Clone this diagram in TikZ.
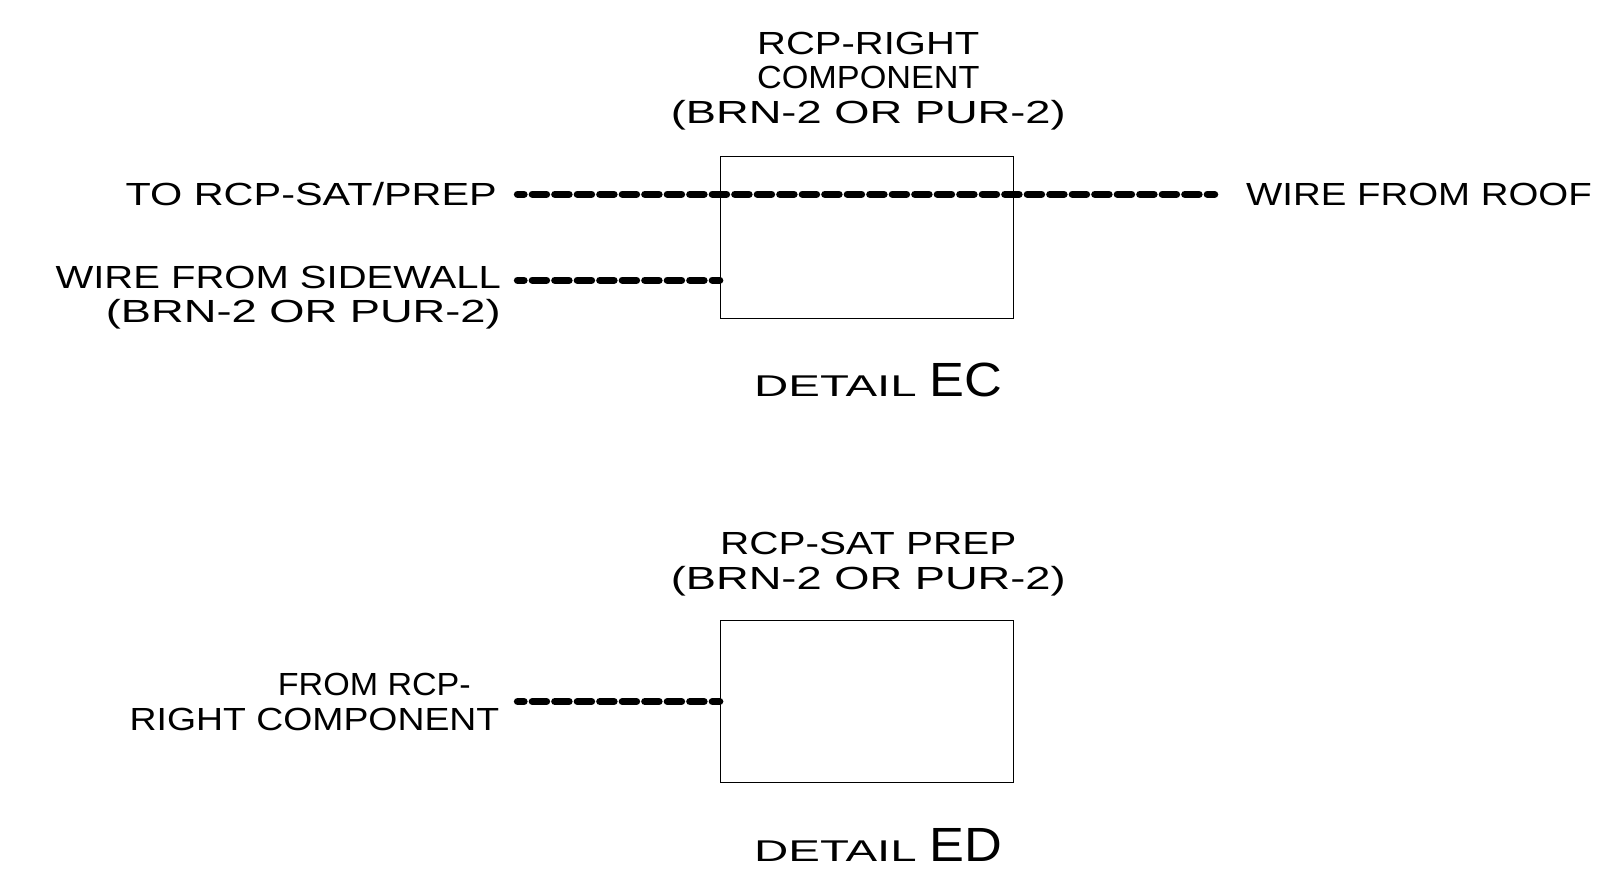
\documentclass[tikz,border=0pt]{standalone}
\usepackage{fontspec}
\setmainfont{Liberation Sans}
\newcommand{\T}[2]{\scalebox{#1}[1]{#2}}
\tikzset{
  lbl/.style={inner sep=0pt,font=\fontsize{32pt}{34.5pt}\selectfont,text=black},
  boxn/.style={draw=black,line width=0.9pt,minimum width=293.5pt,minimum height=162pt,inner sep=0pt},
  wire/.style={draw=black,line width=7.5pt,dash pattern=on 14pt off 8.5pt,dash phase=7.7pt,line cap=round}
}
\begin{document}
\begin{tikzpicture}[x=1pt,y=-1pt]
\useasboundingbox (0,0) rectangle (1602,887);
\fill[white] (0,0) rectangle (1602,887);
\node[boxn] (b1) at (866.8,237.3) {};
\node[boxn] (b2) at (866.8,701.5) {};
\coordinate (w1a) at (517.6,194.3);
\coordinate (w1b) at (1214.5,194.3);
\coordinate (w2a) at (517.6,280.3);
\coordinate (w3a) at (517.6,701.5);
\draw[wire] (w1a) -- (w1b);
\draw[wire] (w2a) -- (b1.west|-w2a);
\draw[wire] (w3a) -- (b2.west);
\node[lbl,align=center] (t1) at (868.3,81) {\T{1.25}{RCP-RIGHT}\\\T{1.07}{COMPONENT}\\\T{1.415}{(BRN-2 OR PUR-2)}};
\node[lbl,anchor=east] (t2) at (497,194) {\T{1.294}{TO RCP-SAT/PREP}};
\node[lbl,anchor=west] (t3) at (1246,194) {\T{1.2}{WIRE FROM ROOF}};
\node[lbl,align=right,anchor=east] (t4) at (501,297.5) {\T{1.25}{WIRE FROM SIDEWALL}\\\T{1.415}{(BRN-2 OR PUR-2)}};
\node[lbl,align=center] (t5) at (868.3,564) {\T{1.265}{RCP-SAT PREP}\\\T{1.415}{(BRN-2 OR PUR-2)}};
\node[lbl,align=right,anchor=east] (t6) at (499.5,702) {\T{1.064}{FROM RCP-}\hspace*{28.5pt}\\\T{1.168}{RIGHT COMPONENT}};
\node[inner sep=0pt,anchor=base west] (t7) at (754,396.7) {\fontsize{30pt}{30pt}\selectfont\T{1.58}{DETAIL}};
\node[inner sep=0pt,anchor=base west] (t8) at (929,396) {\fontsize{48pt}{50pt}\selectfont\T{1.09}{EC}};
\node[inner sep=0pt,anchor=base west] (t9) at (754,861.7) {\fontsize{30pt}{30pt}\selectfont\T{1.58}{DETAIL}};
\node[inner sep=0pt,anchor=base west] (t10) at (929,861) {\fontsize{48pt}{50pt}\selectfont\T{1.09}{ED}};
\end{tikzpicture}
\end{document}
